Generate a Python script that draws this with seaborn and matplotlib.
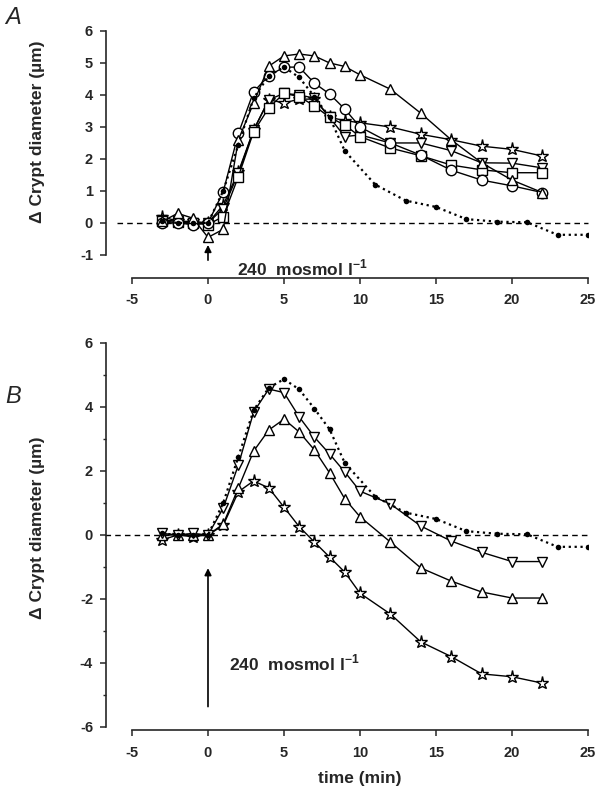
import matplotlib
matplotlib.use("Agg")
import matplotlib.pyplot as plt
import seaborn as sns

# dotted reference curve (shown in both panels)
ref_t = [-3, -2, -1, 0, 1, 2, 3, 4, 5, 6, 7, 8, 9, 11, 13, 15, 17, 19, 21, 23, 25]
ref_y = [0.05, 0.0, 0.0, 0.0, 1.0, 2.45, 3.9, 4.6, 4.87, 4.55, 3.95, 3.3, 2.25,
         1.2, 0.7, 0.5, 0.12, 0.04, 0.02, -0.37, -0.37]

# panel A
t_a = [-3, -2, -1, 0, 1, 2, 3, 4, 5, 6, 7, 8, 9, 10, 12, 14, 16, 18, 20, 22]
a_tri_up = [0.05, 0.3, 0.15, -0.45, -0.2, 2.6, 3.75, 4.9, 5.22, 5.28, 5.22, 5.0,
            4.89, 4.63, 4.18, 3.43, 2.6, 1.88, 1.34, 0.95]
a_circle = [0.0, 0.0, -0.05, 0.0, 0.97, 2.8, 4.1, 4.6, 4.87, 4.87, 4.37, 4.03,
            3.56, 3.0, 2.5, 2.12, 1.65, 1.34, 1.16, 0.95]
a_square = [0.05, 0.02, 0.0, -0.05, 0.2, 1.45, 2.85, 3.6, 4.05, 3.95, 3.66, 3.3,
            3.06, 2.7, 2.34, 2.1, 1.81, 1.66, 1.57, 1.57]
a_tri_down = [0.1, 0.05, 0.0, 0.0, 0.45, 1.55, 2.9, 3.85, 4.05, 4.0, 3.9, 3.3,
              2.7, 2.75, 2.5, 2.5, 2.26, 1.88, 1.87, 1.72]
a_star = [0.2, 0.05, 0.05, 0.0, 0.56, 1.6, 2.9, 3.85, 3.75, 3.87, 3.87, 3.3,
          3.2, 3.13, 3.0, 2.77, 2.6, 2.4, 2.3, 2.09]

# panel B
t_b = [-3, -2, -1, 0, 1, 2, 3, 4, 5, 6, 7, 8, 9, 10, 12, 14, 16, 18, 20, 22]
b_tri_down = [0.05, 0.0, 0.05, 0.0, 0.84, 2.19, 3.84, 4.56, 4.45, 3.69, 3.06, 2.53,
              1.97, 1.37, 0.97, 0.28, -0.19, -0.54, -0.83, -0.83]
b_tri_up = [0.0, 0.0, 0.0, 0.0, 0.34, 1.47, 2.62, 3.28, 3.62, 3.22, 2.66, 1.94,
            1.13, 0.57, -0.22, -1.03, -1.44, -1.78, -1.97, -1.97]
b_star = [-0.15, 0.0, -0.05, 0.0, 0.3, 1.35, 1.69, 1.47, 0.87, 0.26, -0.22, -0.69,
          -1.16, -1.82, -2.47, -3.34, -3.8, -4.34, -4.43, -4.63]

x_ticks = [-5, 0, 5, 10, 15, 20, 25]
a_yticks = [-1, 0, 1, 2, 3, 4, 5, 6]
b_yticks = [-6, -4, -2, 0, 2, 4, 6]
stim_label = r"240  mosmol l$^{\mathbf{-1}}$"

sns.set_style("ticks")
plt.rcParams["font.family"] = ["Liberation Sans", "DejaVu Sans"]
plt.rcParams["font.weight"] = "bold"
plt.rcParams["axes.unicode_minus"] = False
plt.rcParams["mathtext.fontset"] = "custom"
plt.rcParams["mathtext.rm"] = "Liberation Sans"
plt.rcParams["mathtext.bf"] = "Liberation Sans:bold"


def draw_series(ax, t, y, marker, ms=7.5):
    sns.lineplot(x=t, y=y, ax=ax, color="black", lw=1, marker=marker, ms=ms,
                 mfc="white", mec="black", mew=1, zorder=3)


def draw_ref(ax):
    sns.lineplot(x=ref_t, y=ref_y, ax=ax, color="black", lw=1.6, ls=":",
                 marker="o", ms=4, mfc="black", mec="black", mew=0, zorder=4)


def style_axes(ax, yticks, bottom_offset):
    sns.despine(ax=ax)
    ax.spines["left"].set_position(("outward", 19))
    ax.spines["bottom"].set_position(("outward", bottom_offset))
    for sp in ("left", "bottom"):
        ax.spines[sp].set_linewidth(1.2)
    ax.set_xlim(-5, 25)
    ax.set_ylim(yticks[0], yticks[-1])
    ax.set_xticks(x_ticks, labels=[str(v) for v in x_ticks],
                  fontweight="bold", fontsize=10.5)
    ax.set_yticks(yticks, labels=[str(v) for v in yticks],
                  fontweight="bold", fontsize=10.5)
    ax.tick_params(axis="both", length=4, width=1.1, direction="out")
    ax.tick_params(axis="x", pad=7)
    ax.tick_params(axis="y", pad=5)
    ax.set_ylabel("Δ Crypt diameter (µm)", fontsize=12.5, fontweight="bold")


fig = plt.figure(figsize=(5.97, 7.96), dpi=100)
ax_a = fig.add_axes([0.2211, 0.6797, 0.7638, 0.2814])
ax_b = fig.add_axes([0.2211, 0.0867, 0.7638, 0.4824])

# panel A
ax_a.plot([-6.0, 25], [0, 0], color="black", lw=1, ls=(0, (4, 3)), clip_on=False, zorder=1)
draw_ref(ax_a)
draw_series(ax_a, t_a, a_star, "*", ms=9.5)
draw_series(ax_a, t_a, a_tri_down, "v")
draw_series(ax_a, t_a, a_square, "s", ms=7)
draw_series(ax_a, t_a, a_circle, "o", ms=7.5)
draw_series(ax_a, t_a, a_tri_up, "^")
style_axes(ax_a, a_yticks, 16.5)
ax_a.yaxis.set_label_coords(-0.19, 0.55)
ax_a.set_xlabel("")
ax_a.annotate("", xy=(0, -0.6), xytext=(0, -1.25), annotation_clip=False,
              arrowprops=dict(arrowstyle="-|>", color="black", lw=1.2, mutation_scale=10))
ax_a.text(1.9, -1.42, stim_label, fontsize=12.5, fontweight="bold", va="center",
          ha="left", clip_on=False)

# panel B
ax_b.plot([-6.8, 25], [0, 0], color="black", lw=1, ls=(0, (4, 3)), clip_on=False, zorder=1)
draw_ref(ax_b)
draw_series(ax_b, t_b, b_star, "*", ms=9.5)
draw_series(ax_b, t_b, b_tri_up, "^")
draw_series(ax_b, t_b, b_tri_down, "v")
style_axes(ax_b, b_yticks, 2.5)
ax_b.set_yticks([-5, -3, -1, 1, 3, 5], minor=True)
ax_b.tick_params(axis="y", which="minor", length=2.5, width=1)
ax_b.yaxis.set_label_coords(-0.19, 0.52)
ax_b.set_xlabel("time (min)", fontsize=12.5, fontweight="bold", labelpad=8)
ax_b.annotate("", xy=(0, -0.95), xytext=(0, -5.45), annotation_clip=False,
              arrowprops=dict(arrowstyle="-|>", color="black", lw=1.2, mutation_scale=10))
ax_b.text(1.4, -4.0, stim_label, fontsize=12.5, fontweight="bold", va="center",
          ha="left", clip_on=False)

fig.text(0.008, 0.993, "A", fontsize=17, fontstyle="italic", fontweight="normal", va="top")
fig.text(0.008, 0.516, "B", fontsize=17, fontstyle="italic", fontweight="normal", va="top")

fig.savefig("out.png", dpi=100)
